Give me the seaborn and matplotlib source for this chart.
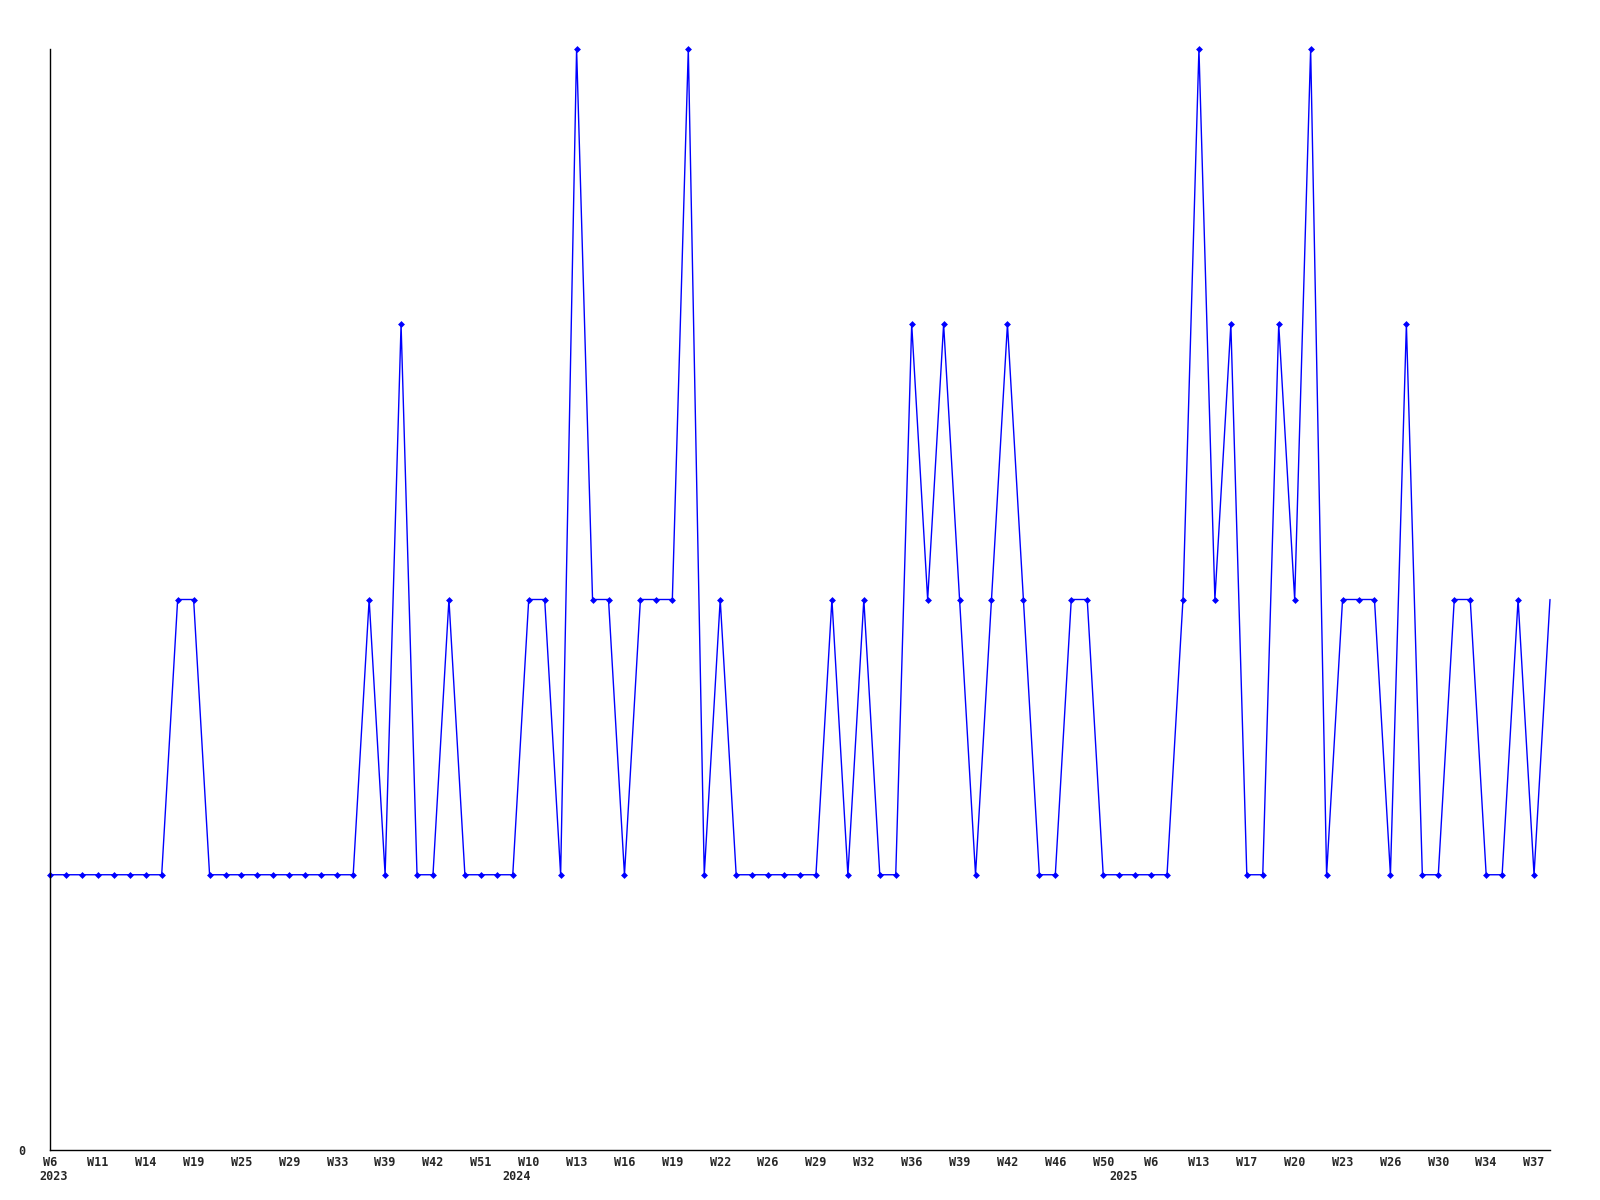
import seaborn as sns
import matplotlib
matplotlib.use("Agg")
import matplotlib.pyplot as plt
import matplotlib.transforms as mtransforms
import pandas as pd

# weekly values (one per week shown on the chart)
values = [1, 1, 1, 1, 1, 1, 1, 1, 2, 2,
          1, 1, 1, 1, 1, 1, 1, 1, 1, 1,
          2, 1, 3, 1, 1, 2, 1, 1, 1, 1,
          2, 2, 1, 4, 2, 2, 1, 2, 2, 2,
          4, 1, 2, 1, 1, 1, 1, 1, 1, 2,
          1, 2, 1, 1, 3, 2, 3, 2, 1, 2,
          3, 2, 1, 1, 2, 2, 1, 1, 1, 1,
          1, 2, 4, 2, 3, 1, 1, 3, 2, 4,
          1, 2, 2, 2, 1, 3, 1, 1, 2, 2,
          1, 1, 2, 1, 2]

week_labels = ["W6", "W11", "W14", "W19", "W25", "W29", "W33", "W39", "W42", "W51",
               "W10", "W13", "W16", "W19", "W22", "W26", "W29", "W32", "W36", "W39",
               "W42", "W46", "W50", "W6", "W13", "W17", "W20", "W23", "W26", "W30",
               "W34", "W37"]
year_labels = ["2023", "2024", "2025"]
year_pos = [0, 29, 67]

df = pd.DataFrame({"idx": range(len(values)), "value": values})

sns.set_style("white")
plt.rcParams["font.family"] = ["DejaVu Sans Mono"]

fig = plt.figure(figsize=(16, 12), dpi=100)
ax = fig.add_axes([50 / 1600, 1 - 1150 / 1200, 1500 / 1600, 1101 / 1200])

sns.lineplot(data=df, x="idx", y="value", ax=ax, color="#0000ff", linewidth=1,
             marker="D", markersize=3.5, markeredgewidth=0,
             markevery=list(range(len(values) - 1)), clip_on=False)

ax.set_xlim(0, len(values) - 1)
ax.set_ylim(0, 4)
ax.set_xlabel("")
ax.set_ylabel("")

ax.set_xticks(range(0, len(values), 3))
ax.set_xticklabels(week_labels, fontsize=8.5, fontweight="bold")
ax.set_yticks([0])
ax.set_yticklabels(["0"], fontsize=8.5, fontweight="bold")
ax.tick_params(axis="both", length=0, pad=4)
ax.tick_params(axis="y", pad=22)
for lab in ax.get_yticklabels():
    lab.set_transform(lab.get_transform() + mtransforms.ScaledTranslation(6 / 100, 0, fig.dpi_scale_trans))

trans = mtransforms.blended_transform_factory(ax.transData, ax.transAxes)
trans = trans + mtransforms.ScaledTranslation(4 / 100, 0, fig.dpi_scale_trans)
for yl, xp in zip(year_labels, year_pos):
    ax.text(xp, -0.0245, yl, transform=trans, ha="center", va="center",
            fontsize=8.5, fontweight="bold")

for side in ["top", "right"]:
    ax.spines[side].set_visible(False)
for side in ["left", "bottom"]:
    ax.spines[side].set_color("black")
    ax.spines[side].set_linewidth(1)

fig.savefig("out.png", dpi=100, facecolor="white")
